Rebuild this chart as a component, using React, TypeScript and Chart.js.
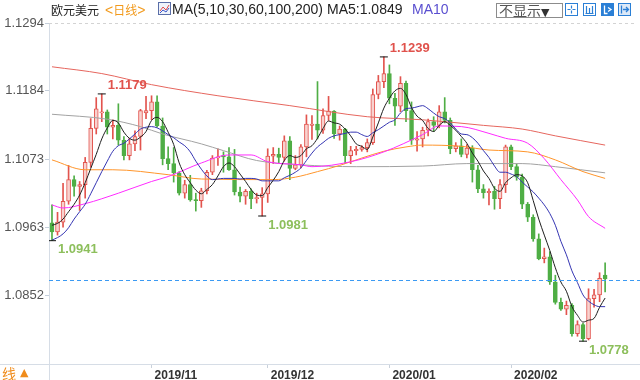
import React, { useEffect, useRef } from 'react';
import { Chart, registerables } from 'chart.js';
Chart.register(...registerables);

// ---------- data (EUR/USD daily, 2019-10-08 .. 2020-02-26) ----------
const opens = [
  1.0970, 1.0955, 1.0971, 1.1005, 1.1040, 1.1029, 1.1032, 1.1068, 1.1123, 1.1148,
  1.1150, 1.1125, 1.1128, 1.1104, 1.1079, 1.1098, 1.1110, 1.1148, 1.1152, 1.1166,
  1.1127, 1.1074, 1.1066, 1.1051, 1.1018, 1.1032, 1.1007, 1.1006, 1.1022, 1.1052,
  1.1075, 1.1079, 1.1077, 1.1056, 1.1020, 1.1013, 1.1021, 1.1009, 1.1011, 1.1017,
  1.1078, 1.1081, 1.1076, 1.1103, 1.1058, 1.1064, 1.1093, 1.1128, 1.1130, 1.1120,
  1.1144, 1.1151, 1.1114, 1.1122, 1.1079, 1.1087, 1.1089, 1.1092, 1.1100, 1.1178,
  1.1199, 1.1212, 1.1172, 1.1159, 1.1196, 1.1152, 1.1104, 1.1106, 1.1120, 1.1134,
  1.1128, 1.1150, 1.1136, 1.1090, 1.1095, 1.1081, 1.1091, 1.1056, 1.1025, 1.1019,
  1.1021, 1.1009, 1.1032, 1.1093, 1.1061, 1.1044, 1.1000, 1.0979, 1.0944, 1.0912,
  1.0915, 1.0874, 1.0841, 1.0830, 1.0836, 1.0790, 1.0805, 1.0782, 1.0847, 1.0853,
  1.0885,
];
const highs = [
  1.0999, 1.0987, 1.1034, 1.1063, 1.1046, 1.1037, 1.1076, 1.1139, 1.1173, 1.1179,
  1.1153, 1.1137, 1.1163, 1.1110, 1.1107, 1.1119, 1.1154, 1.1175, 1.1176, 1.1176,
  1.1140, 1.1093, 1.1092, 1.1053, 1.1039, 1.1047, 1.1018, 1.1026, 1.1055, 1.1079,
  1.1090, 1.1085, 1.1092, 1.1089, 1.1028, 1.1024, 1.1025, 1.1018, 1.1027, 1.1090,
  1.1092, 1.1091, 1.1111, 1.1110, 1.1079, 1.1097, 1.1145, 1.1144, 1.1199, 1.1155,
  1.1175, 1.1152, 1.1127, 1.1123, 1.1094, 1.1094, 1.1095, 1.1106, 1.1187, 1.1209,
  1.1239, 1.1226, 1.1180, 1.1207, 1.1200, 1.1166, 1.1118, 1.1125, 1.1138, 1.1142,
  1.1160, 1.1173, 1.1140, 1.1100, 1.1106, 1.1097, 1.1095, 1.1063, 1.1032, 1.1025,
  1.1029, 1.1040, 1.1096, 1.1096, 1.1065, 1.1049, 1.1003, 1.0983, 1.0952, 1.0929,
  1.0923, 1.0885, 1.0848, 1.0843, 1.0839, 1.0811, 1.0807, 1.0863, 1.0862, 1.0889,
  1.0905,
];
const lows = [
  1.0941, 1.0950, 1.0963, 1.1000, 1.1013, 1.0990, 1.1010, 1.1060, 1.1114, 1.1134,
  1.1114, 1.1106, 1.1096, 1.1072, 1.1072, 1.1087, 1.1088, 1.1139, 1.1137, 1.1125,
  1.1064, 1.1056, 1.1036, 1.1015, 1.1010, 1.1005, 1.0989, 1.0995, 1.1017, 1.1048,
  1.1063, 1.1052, 1.1055, 1.1015, 1.1004, 1.1000, 1.0993, 1.1002, 1.0981, 1.1003,
  1.1066, 1.1067, 1.1070, 1.1040, 1.1056, 1.1059, 1.1077, 1.1105, 1.1106, 1.1115,
  1.1136, 1.1107, 1.1104, 1.1066, 1.1066, 1.1080, 1.1086, 1.1085, 1.1097, 1.1171,
  1.1189, 1.1163, 1.1128, 1.1150, 1.1134, 1.1097, 1.1086, 1.1093, 1.1111, 1.1118,
  1.1124, 1.1132, 1.1082, 1.1085, 1.1077, 1.1075, 1.1036, 1.1019, 1.1010, 1.0999,
  1.0992, 1.0993, 1.1019, 1.1056, 1.1039, 1.0993, 1.0972, 1.0940, 1.0910, 1.0905,
  1.0870, 1.0838, 1.0828, 1.0821, 1.0786, 1.0786, 1.0778, 1.0780, 1.0833, 1.0842,
  1.0858,
];
const closes = [
  1.0955, 1.0971, 1.1005, 1.1040, 1.1029, 1.1032, 1.1068, 1.1123, 1.1155, 1.1150,
  1.1125, 1.1128, 1.1104, 1.1079, 1.1098, 1.1110, 1.1152, 1.1152, 1.1166, 1.1127,
  1.1074, 1.1066, 1.1051, 1.1018, 1.1032, 1.1007, 1.1006, 1.1022, 1.1052, 1.1075,
  1.1077, 1.1077, 1.1056, 1.1020, 1.1013, 1.1021, 1.1009, 1.1011, 1.1017, 1.1078,
  1.1081, 1.1076, 1.1103, 1.1058, 1.1064, 1.1093, 1.1130, 1.1130, 1.1120, 1.1144,
  1.1151, 1.1114, 1.1122, 1.1079, 1.1087, 1.1089, 1.1092, 1.1100, 1.1178, 1.1199,
  1.1212, 1.1172, 1.1159, 1.1196, 1.1152, 1.1104, 1.1106, 1.1120, 1.1134, 1.1128,
  1.1150, 1.1136, 1.1090, 1.1095, 1.1081, 1.1091, 1.1056, 1.1025, 1.1019, 1.1021,
  1.1009, 1.1032, 1.1093, 1.1061, 1.1044, 1.1000, 1.0979, 1.0944, 1.0912, 1.0915,
  1.0874, 1.0841, 1.0830, 1.0836, 1.0790, 1.0805, 1.0782, 1.0847, 1.0853, 1.0880,
  1.0879,
];
const ma5 = [
  1.0966, 1.0969, 1.0976, 1.0988, 1.1000, 1.1015, 1.1035, 1.1058, 1.1081, 1.1106,
  1.1124, 1.1136, 1.1132, 1.1117, 1.1107, 1.1104, 1.1109, 1.1118, 1.1136, 1.1141,
  1.1134, 1.1117, 1.1097, 1.1067, 1.1048, 1.1035, 1.1023, 1.1017, 1.1024, 1.1032,
  1.1046, 1.1061, 1.1067, 1.1061, 1.1049, 1.1037, 1.1024, 1.1015, 1.1014, 1.1027,
  1.1039, 1.1053, 1.1071, 1.1079, 1.1076, 1.1079, 1.1090, 1.1095, 1.1107, 1.1123,
  1.1135, 1.1132, 1.1130, 1.1122, 1.1111, 1.1098, 1.1094, 1.1089, 1.1109, 1.1132,
  1.1156, 1.1172, 1.1184, 1.1188, 1.1178, 1.1157, 1.1143, 1.1136, 1.1123, 1.1118,
  1.1128, 1.1134, 1.1128, 1.1120, 1.1110, 1.1099, 1.1083, 1.1070, 1.1054, 1.1042,
  1.1026, 1.1021, 1.1035, 1.1043, 1.1048, 1.1046, 1.1035, 1.1006, 1.0976, 1.0950,
  1.0925, 1.0897, 1.0874, 1.0859, 1.0834, 1.0820, 1.0809, 1.0812, 1.0815, 1.0833,
  1.0848,
];
const ma10 = [
  1.0942, 1.0946, 1.0952, 1.0962, 1.0976, 1.0988, 1.1000, 1.1017, 1.1035, 1.1053,
  1.1070, 1.1086, 1.1095, 1.1099, 1.1106, 1.1114, 1.1122, 1.1125, 1.1126, 1.1124,
  1.1119, 1.1113, 1.1108, 1.1101, 1.1095, 1.1085, 1.1070, 1.1057, 1.1046, 1.1040,
  1.1041, 1.1042, 1.1042, 1.1042, 1.1041, 1.1042, 1.1042, 1.1041, 1.1038, 1.1038,
  1.1038, 1.1038, 1.1043, 1.1047, 1.1052, 1.1059, 1.1071, 1.1083, 1.1093, 1.1100,
  1.1107, 1.1111, 1.1113, 1.1115, 1.1117, 1.1117, 1.1113, 1.1110, 1.1116, 1.1121,
  1.1127, 1.1133, 1.1137, 1.1148, 1.1155, 1.1156, 1.1158, 1.1160, 1.1155, 1.1148,
  1.1142, 1.1139, 1.1132, 1.1122, 1.1114, 1.1113, 1.1108, 1.1099, 1.1087, 1.1076,
  1.1062, 1.1052, 1.1052, 1.1049, 1.1045, 1.1036, 1.1028, 1.1020, 1.1010, 1.0999,
  1.0985, 1.0966, 1.0940, 1.0918, 1.0892, 1.0873, 1.0853, 1.0843, 1.0837, 1.0834,
  1.0834,
];
const ma30Idx = [0, 2, 6, 12, 18, 21, 27, 32, 36, 39, 45, 47, 54, 60, 67, 70, 74, 79, 82, 86, 89, 92, 95, 97, 100];
const ma30Val = [1.0999, 1.0994, 1.1001, 1.1018, 1.1037, 1.1045, 1.1067, 1.1080, 1.1080, 1.1069, 1.1064, 1.1061, 1.1069, 1.1085, 1.1113, 1.1127, 1.1126, 1.1115, 1.1107, 1.1099, 1.1074, 1.1040, 1.1007, 1.0980, 1.0961];
const ma60Idx = [0, 6, 11, 21, 27, 40, 44, 48, 52, 56, 60, 64, 67, 74, 79, 86, 91, 96, 100];
const ma60Val = [1.1072, 1.1056, 1.1056, 1.1048, 1.1041, 1.1040, 1.1044, 1.1053, 1.1063, 1.1075, 1.1086, 1.1093, 1.1096, 1.1094, 1.1088, 1.1085, 1.1072, 1.1053, 1.1042];
const ma100Idx = [0, 10, 16, 20, 27, 31, 37, 45, 55, 67, 75, 85, 91, 100];
const ma100Val = [1.1146, 1.1138, 1.1126, 1.1114, 1.1098, 1.1087, 1.1071, 1.1064, 1.1061, 1.1062, 1.1066, 1.1066, 1.1061, 1.1051];
const ma200Idx = [0, 9, 18, 30, 43, 57, 67, 78, 85, 91, 100];
const ma200Val = [1.1223, 1.1212, 1.1194, 1.1176, 1.1160, 1.1142, 1.1137, 1.1128, 1.1122, 1.1111, 1.1096];

const xTickIdx = [18, 39, 61, 83];
const xTickLabels = ['2019/11', '2019/12', '2020/01', '2020/02'];
const yTicks = [1.0852, 1.0963, 1.1073, 1.1184, 1.1294];
const yMin = 1.0741;
const yMax = 1.1294;
const xMin = -0.54;
const xMax = 105.4;
const lastPrice = 1.0877;
const markIdx = [9, 60, 0, 38, 96];
const markVal = [1.1179, 1.1239, 1.0941, 1.0981, 1.0778];
const markKind = ['high', 'high', 'low', 'low', 'low'];

const RED = '#e2544e';
const RED_FILL = '#f8d2cf';
const GREEN = '#4fae45';
const LATIN = '"Liberation Sans", Arial, sans-serif';
const CJK = '"Noto Sans CJK SC", sans-serif';

const decor = {
  id: 'decor',
  afterDatasetsDraw(chart: any) {
    const { ctx, chartArea: a, scales } = chart;
    const x = scales.x;
    const y = scales.y;
    ctx.save();
    ctx.lineWidth = 1;
    ctx.strokeStyle = '#d3d3d3';
    ctx.setLineDash([3, 3]);
    const ty = Math.round(y.getPixelForValue(yMax)) + 0.5;
    ctx.beginPath();
    ctx.moveTo(a.left, ty);
    ctx.lineTo(a.right, ty);
    ctx.stroke();
    ctx.strokeStyle = '#3b9af3';
    ctx.setLineDash([4, 3]);
    const py = Math.round(y.getPixelForValue(lastPrice)) + 0.5;
    ctx.beginPath();
    ctx.moveTo(a.left, py);
    ctx.lineTo(chart.width, py);
    ctx.stroke();
    ctx.setLineDash([]);
    ctx.font = 'bold 13px ' + LATIN;
    ctx.textAlign = 'left';
    ctx.textBaseline = 'middle';
    markIdx.forEach((idx, k) => {
      const px = x.getPixelForValue(idx);
      const vy = y.getPixelForValue(markVal[k]);
      const hi = markKind[k] === 'high';
      ctx.fillStyle = hi ? '#e0524c' : '#8dbf5c';
      ctx.fillText(markVal[k].toFixed(4), px + 6, vy + (hi ? -8 : 9));
    });
    ctx.restore();
  },
  afterDraw(chart: any) {
    const { ctx, chartArea: a } = chart;
    ctx.save();
    ctx.strokeStyle = '#d6dde6';
    ctx.lineWidth = 1;
    ctx.beginPath();
    ctx.moveTo(0, a.bottom + 0.5);
    ctx.lineTo(chart.width, a.bottom + 0.5);
    ctx.moveTo(a.left + 0.5, a.bottom);
    ctx.lineTo(a.left + 0.5, chart.height);
    ctx.stroke();
    ctx.restore();
  },
};

function maLine(label: string, xs: number[], vals: number[], color: string, order: number) {
  return {
    type: 'line' as const,
    label,
    data: xs.map((xv, k) => ({ x: xv, y: vals[k] })),
    borderColor: color,
    borderWidth: 1,
    pointRadius: 0,
    fill: false,
    cubicInterpolationMode: 'monotone' as const,
    order,
  };
}

export default function App() {
  const ref = useRef<HTMLCanvasElement>(null);
  useEffect(() => {
    if (!ref.current) return;
    const idx = closes.map((_, i) => i);
    const up = idx.map((i) => closes[i] >= opens[i]);
    const chart = new Chart(ref.current, {
      type: 'bar',
      data: {
        datasets: [
          {
            type: 'line',
            label: 'marks',
            data: markIdx.map((m, k) => ({ x: m, y: markVal[k] })),
            showLine: false,
            pointStyle: 'line',
            pointRadius: 4,
            pointBorderColor: '#111',
            pointBorderWidth: 1,
            order: 0,
          } as any,
          maLine('MA5', idx, ma5, '#1e1e1e', 1),
          maLine('MA10', idx, ma10, '#3434b2', 2),
          maLine('MA30', ma30Idx, ma30Val, '#ff2bff', 3),
          maLine('MA60', ma60Idx, ma60Val, '#ff952b', 4),
          maLine('MA100', ma100Idx, ma100Val, '#a2a2a2', 5),
          maLine('MA200', ma200Idx, ma200Val, '#e6665e', 6),
          {
            type: 'bar',
            label: 'body',
            data: idx.map((i) => ({ x: i, y: [opens[i], closes[i]] })),
            backgroundColor: idx.map((i) => (up[i] ? RED_FILL : GREEN)),
            borderColor: idx.map((i) => (up[i] ? RED : GREEN)),
            borderWidth: 1,
            borderSkipped: false,
            barThickness: 4,
            minBarLength: 1,
            grouped: false,
            order: 10,
          } as any,
          {
            type: 'bar',
            label: 'wick',
            data: idx.map((i) => ({ x: i, y: [lows[i], highs[i]] })),
            backgroundColor: idx.map((i) => (up[i] ? RED : GREEN)),
            borderWidth: 0,
            barThickness: 1,
            grouped: false,
            order: 11,
          } as any,
        ],
      },
      options: {
        responsive: false,
        animation: false,
        layout: { padding: { top: 23, right: 5, left: 0, bottom: 0 } },
        plugins: { legend: { display: false }, tooltip: { enabled: false } },
        scales: {
          x: {
            type: 'linear',
            min: xMin,
            max: xMax,
            offset: false,
            afterBuildTicks: (s: any) => {
              s.ticks = xTickIdx.map((v) => ({ value: v }));
            },
            afterFit: (s: any) => {
              s.height = 16;
            },
            ticks: {
              autoSkip: false,
              maxRotation: 0,
              align: 'start',
              labelOffset: 3,
              padding: 0,
              color: '#333',
              font: { family: LATIN, size: 12, weight: 'bold' },
              callback: (_v: any, i: number) => xTickLabels[i],
            },
            grid: { drawOnChartArea: false, tickLength: 4, color: '#c9d1db', offset: false },
            border: { color: '#d6dde6' },
          },
          y: {
            min: yMin,
            max: yMax,
            afterBuildTicks: (s: any) => {
              s.ticks = yTicks.map((v) => ({ value: v }));
            },
            afterFit: (s: any) => {
              s.width = 49;
            },
            ticks: {
              padding: 1,
              color: '#555',
              font: { family: LATIN, size: 13 },
              callback: (v: any) => Number(v).toFixed(4),
            },
            grid: { drawOnChartArea: false, tickLength: 4, color: '#c5cfdb' },
            border: { color: '#d6dde6' },
          },
        },
      } as any,
      plugins: [decor],
    });
    return () => chart.destroy();
  }, []);

  const hdr: React.CSSProperties = {
    position: 'absolute',
    top: 2,
    height: 15,
    lineHeight: '15px',
    whiteSpace: 'nowrap',
    fontFamily: LATIN,
    fontSize: 14,
    color: '#222',
  };
  const ico: React.CSSProperties = { position: 'absolute', top: 3 };
  const BLUE = '#2a7fd6';

  return (
    <div style={{ position: 'fixed', left: 0, top: 0, width: 640, height: 380, background: '#fff', overflow: 'hidden' }}>
      <canvas ref={ref} width={640} height={380} style={{ position: 'absolute', left: 0, top: 0, width: 640, height: 380 }} />
      <span style={{ ...hdr, left: 51, fontFamily: CJK, fontSize: 12 }}>欧元美元</span>
      <span style={{ ...hdr, left: 105, color: '#f29a1c' }}>
        &lt;<span style={{ fontFamily: CJK, fontSize: 12 }}>日线</span>&gt;
      </span>
      <svg style={{ position: 'absolute', left: 158, top: 2 }} width={13} height={13}>
        <rect x={0.5} y={0.5} width={12} height={12} fill="#eef3fb" stroke="#5a6ea8" />
        <polyline points="2,9 5,5 8,8 11,3" fill="none" stroke="#e24a4a" strokeWidth={1} />
        <polyline points="2,11 5,8 8,10 11,6" fill="none" stroke="#3a56c8" strokeWidth={1} />
      </svg>
      <span style={{ ...hdr, left: 172 }}>MA(5,10,30,60,100,200)</span>
      <span style={{ ...hdr, left: 327 }}>MA5:1.0849</span>
      <span style={{ ...hdr, left: 412, color: '#5a4fd0' }}>MA10</span>
      <div
        style={{
          position: 'absolute',
          left: 496,
          top: 3,
          width: 63,
          height: 13,
          border: '1px solid #8c8c8c',
          lineHeight: '13px',
          fontSize: 14,
          fontFamily: CJK,
          color: '#555',
          paddingLeft: 2,
          boxSizing: 'content-box',
          whiteSpace: 'nowrap',
          overflow: 'hidden',
          background: '#fff',
        }}
      >
        不显示<span style={{ fontFamily: '"DejaVu Sans", sans-serif', fontSize: 11, color: '#333' }}>▼</span>
      </div>
      <svg style={{ ...ico, left: 565 }} width={13} height={13}>
        <rect x={0.5} y={0.5} width={12} height={12} fill="#fff" stroke={BLUE} />
        <path d="M6.5 2.5v3M6.5 7.5v3M2.5 6.5h3M7.5 6.5h3" stroke={BLUE} strokeWidth={1.2} />
      </svg>
      <svg style={{ ...ico, left: 583 }} width={13} height={13}>
        <rect x={0.5} y={0.5} width={12} height={12} fill="#fff" stroke={BLUE} />
        <path d="M3.5 3v7M6.5 5v5M9.5 3v7M2.5 10.5h8" stroke={BLUE} strokeWidth={1.2} />
      </svg>
      <svg style={{ ...ico, left: 601 }} width={13} height={13}>
        <rect x={0} y={0} width={13} height={13} fill={BLUE} />
        <path d="M3.5 2.5v8h3M7 4.5l3 2-3 2" stroke="#fff" strokeWidth={1.3} fill="none" />
      </svg>
      <svg style={{ ...ico, left: 618 }} width={13} height={13}>
        <rect x={0.5} y={0.5} width={12} height={12} fill="#dce9f8" stroke={BLUE} />
        <path d="M3.5 2.5v8M5 6.5h5M8 4l2.5 2.5L8 9" stroke={BLUE} strokeWidth={1.3} fill="none" />
      </svg>
      <span
        style={{
          position: 'absolute',
          left: 2,
          top: 366,
          lineHeight: '14px',
          fontSize: 14,
          fontFamily: CJK,
          color: '#f08c1c',
        }}
      >
        线
      </span>
      <span
        style={{
          position: 'absolute',
          left: 20,
          top: 366,
          lineHeight: '14px',
          fontSize: 11,
          fontFamily: '"DejaVu Sans", sans-serif',
          color: '#f08c1c',
        }}
      >
        ▲
      </span>
    </div>
  );
}
